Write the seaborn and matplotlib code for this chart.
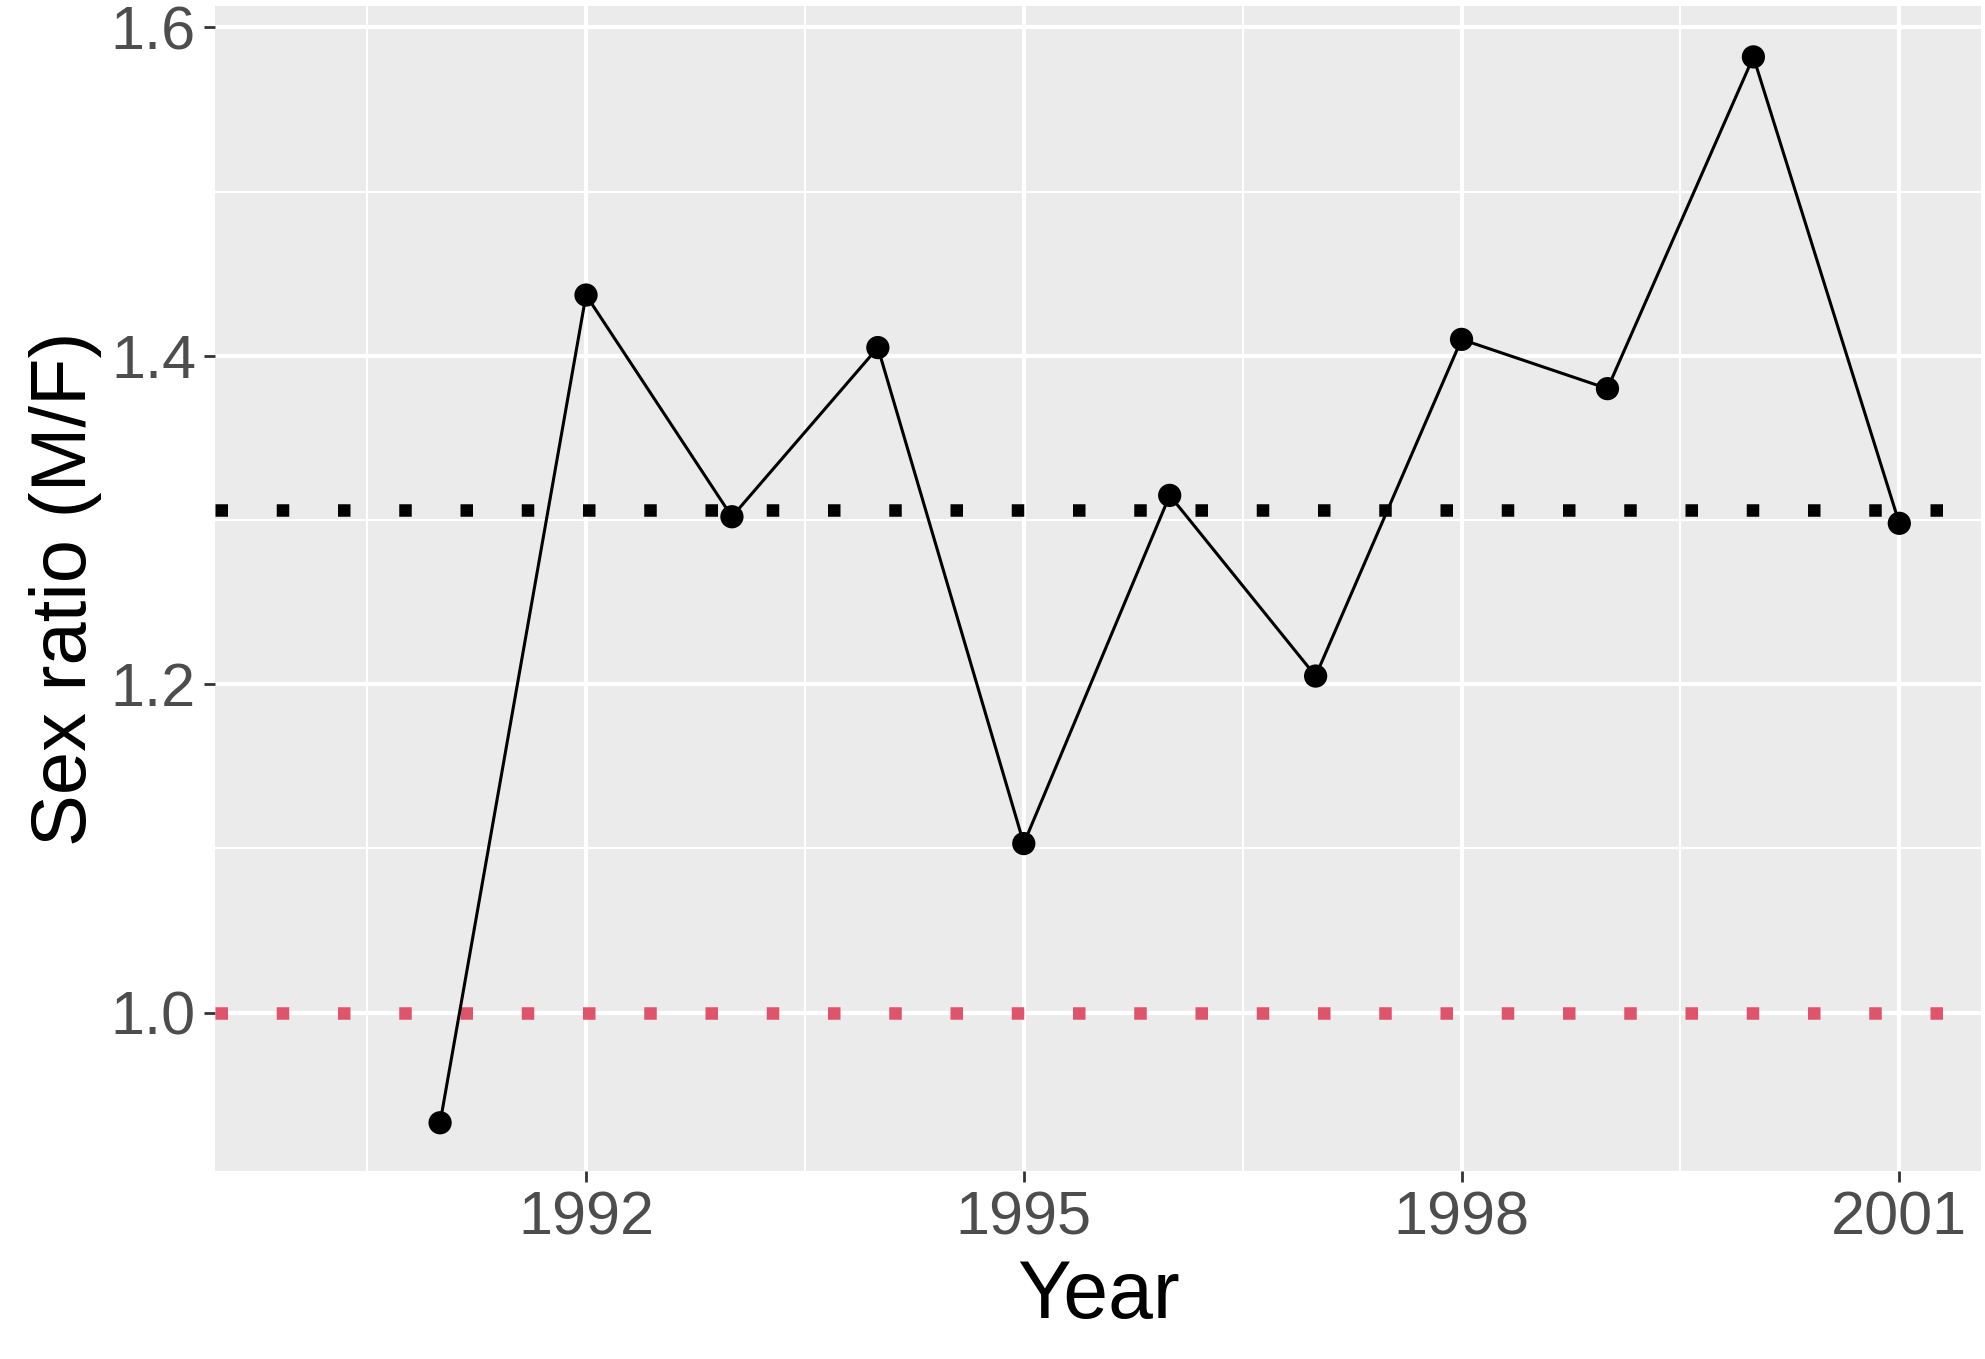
import matplotlib
matplotlib.use("Agg")
import matplotlib.pyplot as plt
import seaborn as sns
import pandas as pd
import numpy as np
from matplotlib.ticker import FixedLocator

years = [1991, 1992, 1993, 1994, 1995, 1996, 1997, 1998, 1999, 2000, 2001]
ratio = [0.933, 1.437, 1.302, 1.405, 1.103, 1.315, 1.205, 1.410, 1.380, 1.582, 1.298]
ref_line = 1.0
df = pd.DataFrame({"Year": years, "Ratio": ratio})
mean_line = float(np.mean(ratio))

sns.set_theme(style="darkgrid")
plt.rcParams['font.family'] = ['Liberation Sans', 'DejaVu Sans']

fig = plt.figure(figsize=(19.85, 13.59), dpi=100)
ax = fig.add_axes([0.1085, 0.1383, 0.8895, 0.8573])
ax.set_facecolor("#EBEBEB")

ax.axhline(mean_line, color="black", lw=9, ls=(0, (1, 3.9)), zorder=2)
ax.axhline(ref_line, color="#DF536B", lw=9, ls=(0, (1, 3.9)), zorder=2)
sns.lineplot(data=df, x="Year", y="Ratio", color="black", lw=2.2, ax=ax, zorder=3)
sns.scatterplot(data=df, x="Year", y="Ratio", color="black", s=280, edgecolor="none", ax=ax, zorder=4)

ax.set_xlim(1989.46, 2001.56)
ax.set_ylim(0.9036, 1.613)
ax.xaxis.set_major_locator(FixedLocator([1992, 1995, 1998, 2001]))
ax.xaxis.set_minor_locator(FixedLocator([1990.5, 1993.5, 1996.5, 1999.5]))
ax.yaxis.set_major_locator(FixedLocator([1.0, 1.2, 1.4, 1.6]))
ax.yaxis.set_minor_locator(FixedLocator([1.1, 1.3, 1.5]))
ax.yaxis.set_major_formatter(matplotlib.ticker.FormatStrFormatter('%.1f'))
ax.grid(which="major", color="white", lw=3)
ax.grid(which="minor", color="white", lw=1.5)
ax.set_axisbelow(True)
for s in ax.spines.values():
    s.set_visible(False)
ax.tick_params(which="major", length=8, width=2, color="#333333", labelsize=44, labelcolor="#4D4D4D", pad=6)
ax.tick_params(which="minor", length=0)
ax.tick_params(axis="x", bottom=True)
ax.tick_params(axis="y", left=True)
ax.set_xlabel("Year", fontsize=58, color="black", labelpad=8)
ax.set_ylabel("Sex ratio (M/F)", fontsize=56, color="black", labelpad=6)

fig.savefig("out.png", dpi=100)
